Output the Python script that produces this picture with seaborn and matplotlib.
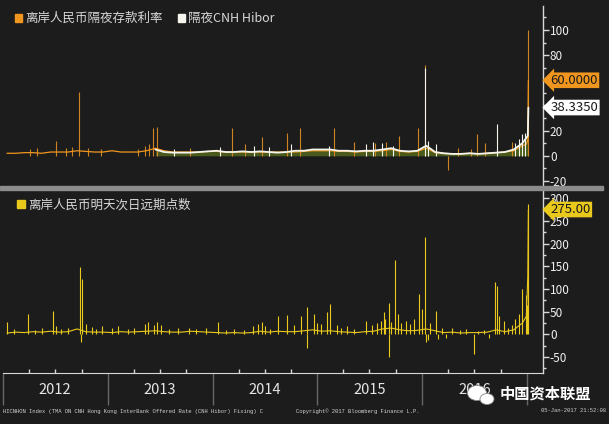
import pandas as pd
import matplotlib
matplotlib.use('Agg')
import matplotlib.pyplot as plt
import matplotlib.dates as mdates
import matplotlib.transforms as mtransforms
from matplotlib.patches import Patch, Rectangle, Ellipse
from matplotlib.ticker import MultipleLocator, FuncFormatter, NullFormatter
import seaborn as sns

# ---- data ----
# monthly levels, Jan 2012 .. Dec 2016 (mid-month)
deposit_monthly = [2, 2, 2.5, 2.5, 2, 3, 3, 3, 4, 3.5, 3, 3,
                   4, 3, 3, 3, 4, 6, 4, 3, 3, 3, 3, 3.5,
                   3.5, 3, 3, 3, 3, 3, 3, 3, 3, 3, 3.5, 4,
                   4, 4, 3.5, 3.5, 3, 3.5, 3.5, 4, 5, 3.5, 3, 3.5,
                   6, 2.5, 2, 1.5, 1.5, 2, 1.5, 2, 2.5, 3, 4, 8]
deposit_tail_dates = ['2016-12-28', '2017-01-03', '2017-01-05']
deposit_tail = [9, 12, 60.0]
deposit_spike_dates = ['2012-04-04', '2012-04-29', '2012-07-04', '2012-08-08', '2012-08-30',
                       '2012-09-22', '2012-10-23', '2012-12-07', '2013-04-15', '2013-05-10',
                       '2013-05-25', '2013-06-07', '2013-06-21', '2013-10-13', '2014-03-08',
                       '2014-04-25', '2014-06-21', '2014-09-17', '2014-11-01', '2015-02-27',
                       '2015-05-08', '2015-07-19', '2015-08-27', '2015-10-11', '2015-12-17',
                       '2016-01-10', '2016-03-31', '2016-05-06', '2016-06-18', '2016-07-10',
                       '2016-08-07', '2016-11-09', '2017-01-04']
deposit_spike_vals = [5, 6, 12, 6, 7, 51, 6, 5, 5, 8, 9, 22, 23, 6, 22,
                      9, 15, 18, 22, 22, 11, 10, 11, 16, 22, 72, -11, 6, 5, 17,
                      10, 11, 100]

# overnight CNH Hibor, Jun 2013 .. Dec 2016
hibor_monthly = [5, 3, 2.5, 2.5, 2.5, 3, 3.5,
                 4, 3, 3, 3.5, 3, 3.5, 3, 2.5, 3, 4, 4, 5,
                 5, 5, 4, 4, 3.5, 4, 4, 5, 6, 4, 3.5, 4,
                 8, 3, 2, 1.5, 1.5, 2, 1.5, 2, 2.5, 3, 5, 10]
hibor_tail_dates = ['2016-12-28', '2017-01-03', '2017-01-05']
hibor_tail = [14, 16, 38.335]
hibor_spike_dates = ['2013-08-20', '2014-01-25', '2014-05-25', '2014-07-15', '2014-10-01',
                     '2015-02-10', '2015-06-20', '2015-07-15', '2015-08-15', '2015-09-20',
                     '2016-01-10', '2016-01-20', '2016-02-17', '2016-09-16', '2016-11-20',
                     '2016-12-05', '2016-12-15', '2016-12-23']
hibor_spike_vals = [5, 7, 8, 7, 9, 8, 9, 11, 10, 8, 70, 12, 9, 25, 10, 13, 17, 18]

# CNH tom-next forward points
fwd_monthly = [3, 5, 4, 6, 5, 7, 5, 6, 12, 6, 5, 5,
               4, 6, 5, 6, 7, 8, 6, 5, 5, 7, 6, 5,
               4, 3, 4, 3, 4, 7, 5, 7, 6, 6, 8, 10,
               7, 8, 6, 5, 4, 6, 7, 12, 14, 10, 8, 9,
               12, 8, 4, 5, 3, 4, 4, 5, 10, 6, 10, 25]
fwd_tail_dates = ['2016-12-29', '2017-01-03', '2017-01-05']
fwd_tail = [40, 127, 275.0]
fwd_spike_dates = ['2012-01-15', '2012-02-10', '2012-03-28', '2012-04-20', '2012-05-15',
                   '2012-06-24', '2012-07-05', '2012-07-20', '2012-08-15', '2012-09-25',
                   '2012-09-28', '2012-10-02', '2012-10-15', '2012-11-05', '2012-11-20',
                   '2012-12-10', '2013-01-15', '2013-02-05', '2013-03-10', '2013-04-01',
                   '2013-05-10', '2013-05-20', '2013-06-10', '2013-06-21', '2013-07-05',
                   '2013-08-01', '2013-09-01', '2013-10-10', '2013-11-05', '2013-12-10',
                   '2014-01-19', '2014-02-15', '2014-03-15', '2014-04-20', '2014-05-20',
                   '2014-06-08', '2014-06-22', '2014-07-02', '2014-07-20', '2014-08-16',
                   '2014-09-17', '2014-10-10', '2014-11-04', '2014-11-25', '2014-11-26',
                   '2014-12-20', '2014-12-30', '2015-01-15', '2015-02-02', '2015-02-13',
                   '2015-03-10', '2015-03-25', '2015-04-15', '2015-05-10', '2015-06-18',
                   '2015-07-10', '2015-07-28', '2015-08-12', '2015-08-20', '2015-08-26',
                   '2015-09-06', '2015-09-07', '2015-09-15', '2015-09-27', '2015-10-08',
                   '2015-10-20', '2015-11-05', '2015-11-20', '2015-12-05', '2015-12-20',
                   '2015-12-31', '2016-01-10', '2016-01-13', '2016-01-20', '2016-01-28',
                   '2016-02-17', '2016-02-25', '2016-03-10', '2016-03-25', '2016-04-15',
                   '2016-05-10', '2016-06-01', '2016-06-30', '2016-07-15', '2016-08-05',
                   '2016-08-20', '2016-09-11', '2016-09-18', '2016-09-25', '2016-10-12',
                   '2016-10-25', '2016-11-10', '2016-11-20', '2016-12-03', '2016-12-13',
                   '2016-12-27', '2016-12-30', '2017-01-04']
fwd_spike_vals = [27, 12, 44, 10, 14, 51, 18, 12, 15, 149, -16, 122, 22, 16, 12,
                  18, 14, 18, 12, 15, 22, 27, 20, 27, 20, 12, 14, 15, 12, 14,
                  27, 10, 12, 10, 18, 22, 28, 18, 12, 40, 42, 20, 40, 60, -29,
                  44, 25, 22, 49, 67, 20, 15, 18, 12, 29, 20, 25, 30, 49, 35,
                  69, -49, 28, 163, 44, 25, 30, 22, 35, 89, 55, 215, -16, -12, 25,
                  51, -10, 15, -8, 14, 10, 12, -44, 8, 10, -8, 116, 107, 40, 29,
                  15, 20, 35, 44, 100, 87, 64, 287]

labels_top = ['离岸人民币隔夜存款利率', '隔夜CNH Hibor']
label_bottom = '离岸人民币明天次日远期点数'


def series(start, monthly, tail_dates, tail_vals):
    d = pd.date_range(start, periods=len(monthly), freq='MS') + pd.Timedelta(days=14)
    d = d.append(pd.to_datetime(tail_dates))
    return pd.DataFrame({'date': d, 'value': list(monthly) + list(tail_vals)})


deposit = series('2012-01-01', deposit_monthly, deposit_tail_dates, deposit_tail)
hibor = series('2013-06-01', hibor_monthly, hibor_tail_dates, hibor_tail)
fwd = series('2012-01-01', fwd_monthly, fwd_tail_dates, fwd_tail)

# ---- style ----
sns.set_style('dark')
plt.rcParams['font.family'] = ['Noto Sans CJK SC', 'DejaVu Sans']
plt.rcParams['axes.unicode_minus'] = False

bg = '#1c1c1c'
orange = '#f0961e'
white = '#f5f5ee'
yellow = '#e9c91c'
axcol = '#d8d8d8'

W, H = 609, 424
fig = plt.figure(figsize=(W / 100, H / 100), dpi=100, facecolor=bg)


def px_box(l, t, r, b):
    return [l / W, 1 - b / H, (r - l) / W, (b - t) / H]


ax1 = fig.add_axes(px_box(3, 6, 543, 186))
ax2 = fig.add_axes(px_box(3, 190, 543, 373), sharex=ax1)

# top panel
ax1.fill_between(hibor['date'], 0, hibor['value'], color='#4a5a1c', lw=0)
ax1.vlines(pd.to_datetime(deposit_spike_dates), 0, deposit_spike_vals, colors='#d08420', lw=0.8)
sns.lineplot(data=deposit, x='date', y='value', ax=ax1, color=orange, lw=0.9)
ax1.vlines(pd.to_datetime(hibor_spike_dates), 0, hibor_spike_vals, colors=white, lw=0.8)
sns.lineplot(data=hibor, x='date', y='value', ax=ax1, color=white, lw=1.3)

# bottom panel
ax2.vlines(pd.to_datetime(fwd_spike_dates), 0, fwd_spike_vals, colors=yellow, lw=0.8)
sns.lineplot(data=fwd, x='date', y='value', ax=ax2, color=yellow, lw=0.8)

ax1.set_ylim(-24, 119)
ax2.set_ylim(-85, 318)
ax1.set_xlim(pd.Timestamp('2012-01-01'), pd.Timestamp('2017-02-25'))

for ax, major, minor in [(ax1, 20, 10), (ax2, 50, 25)]:
    ax.set_facecolor(bg)
    ax.grid(False)
    ax.set_xlabel('')
    ax.set_ylabel('')
    for s in ['left', 'top', 'bottom']:
        ax.spines[s].set_visible(False)
    ax.spines['right'].set_color(axcol)
    ax.spines['right'].set_linewidth(1)
    ax.yaxis.tick_right()
    ax.yaxis.set_major_locator(MultipleLocator(major))
    ax.yaxis.set_minor_locator(MultipleLocator(minor))
    ax.yaxis.set_major_formatter(FuncFormatter(lambda v, p: f'{v:g}'))
    ax.tick_params(axis='y', which='major', direction='out', length=4, width=1, right=True,
                   colors=axcol, labelcolor='#f0f0f0', labelsize=8.5, pad=1)
    ax.tick_params(axis='y', which='minor', direction='out', length=2, width=1, right=True,
                   colors=axcol)

ax1.tick_params(axis='x', which='both', bottom=False, labelbottom=False)
ax2.spines['bottom'].set_visible(True)
ax2.spines['bottom'].set_color(axcol)
ax2.xaxis.set_major_locator(mdates.YearLocator())
ax2.xaxis.set_major_formatter(NullFormatter())
ax2.xaxis.set_minor_locator(mdates.MonthLocator(bymonth=[4, 7, 10]))
ax2.xaxis.set_minor_formatter(FuncFormatter(
    lambda v, p: str(mdates.num2date(v).year) if mdates.num2date(v).month == 7 else ''))
ax2.tick_params(axis='x', which='major', direction='out', length=23, width=1, bottom=True,
                colors='#666666')
ax2.tick_params(axis='x', which='minor', direction='in', length=3, width=1, bottom=True,
                colors=axcol, labelcolor='#e6e6e6', labelsize=10.5, pad=7)

# last-value tags on the right axis
blend1 = mtransforms.blended_transform_factory(ax1.transAxes, ax1.transData)
blend2 = mtransforms.blended_transform_factory(ax2.transAxes, ax2.transData)
tag = dict(va='center', ha='left', fontsize=9.5, color='#1a1a1a', zorder=10, clip_on=False)
ax1.text(1.014, deposit_tail[-1], f'{deposit_tail[-1]:.4f}', transform=blend1,
         bbox=dict(boxstyle='larrow,pad=0.1', fc=orange, ec='none'), **tag)
ax1.text(1.014, hibor_tail[-1], f'{hibor_tail[-1]:.4f}', transform=blend1,
         bbox=dict(boxstyle='larrow,pad=0.1', fc='white', ec='none'), **tag)
ax2.text(1.014, fwd_tail[-1], f'{fwd_tail[-1]:.2f}', transform=blend2,
         bbox=dict(boxstyle='larrow,pad=0.1', fc=yellow, ec='none'), **tag)

# legends
ax1.legend(handles=[Patch(color=orange, label=labels_top[0]), Patch(color=white, label=labels_top[1])],
           loc='upper left', bbox_to_anchor=(0.01, 1.0), ncol=2, frameon=False,
           handlelength=0.6, handleheight=0.6, handletextpad=0.25, columnspacing=1.2,
           borderaxespad=0.1, fontsize=9, labelcolor='#d8d8d8')
ax2.legend(handles=[Patch(color=yellow, label=label_bottom)],
           loc='upper left', bbox_to_anchor=(0.01, 1.0), frameon=False,
           handlelength=0.6, handleheight=0.6, handletextpad=0.25,
           borderaxespad=0.3, fontsize=9, labelcolor='#d8d8d8')

# panel separator
fig.patches.append(Rectangle((0, 1 - 190 / H), 603 / W, 4 / H, transform=fig.transFigure,
                             color='#8c8c8c', zorder=5))

# footer
foot = dict(fontsize=4, family='Liberation Mono', color='#cfcfcf', va='center')
fig.text(3 / W, 1 - 411 / H,
         'HICNHON Index (TMA ON CNH Hong Kong InterBank Offered Rate (CNH Hibor) Fixing) C', **foot)
fig.text(296 / W, 1 - 411 / H, 'Copyright\u00a9 2017 Bloomberg Finance L.P.', **foot)
fig.text(606 / W, 1 - 411 / H, '05-Jan-2017 21:52:08', ha='right', **foot)

# watermark
fig.patches.append(Ellipse((477 / W, 1 - 393 / H), 19 / W, 15 / H, transform=fig.transFigure,
                           fc='white', ec='#888888', lw=0.6, zorder=6))
fig.patches.append(Ellipse((487 / W, 1 - 399 / H), 14 / W, 11 / H, transform=fig.transFigure,
                           fc='white', ec='#888888', lw=0.6, zorder=7))
fig.text(500 / W, 1 - 394 / H, '中国资本联盟', fontsize=11, color='white', va='center',
         fontweight='bold', zorder=8)

fig.savefig('out.png', dpi=100, facecolor=bg)
